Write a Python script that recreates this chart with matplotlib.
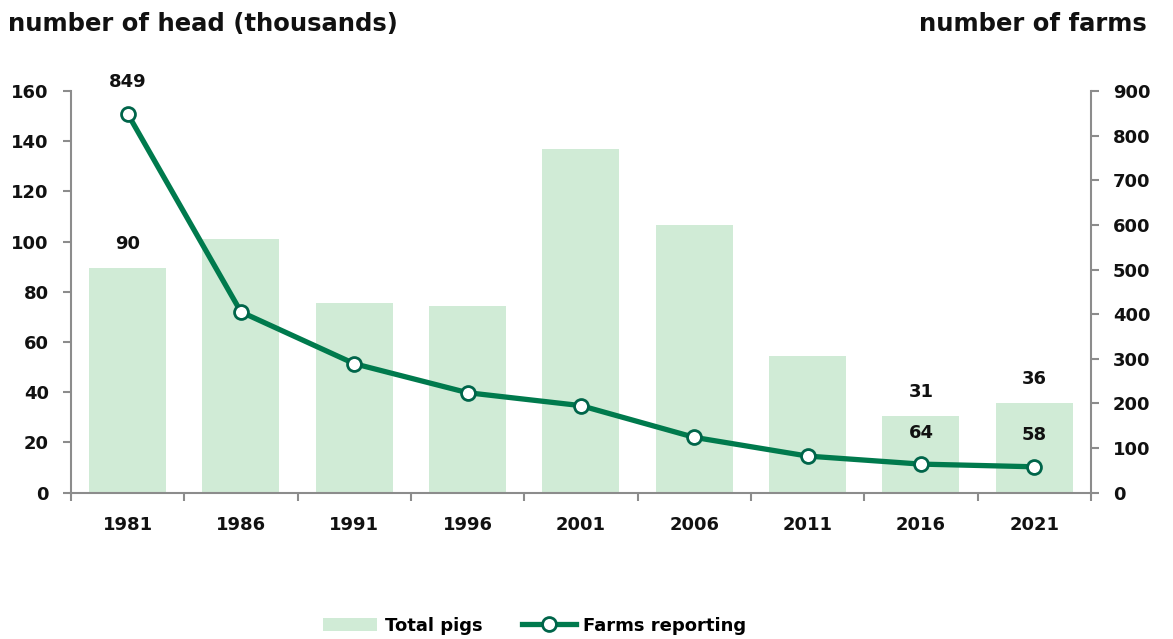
import matplotlib.pyplot as plt
from matplotlib.ticker import MultipleLocator, FixedLocator
import numpy as np

# data
years = ["1981", "1986", "1991", "1996", "2001", "2006", "2011", "2016", "2021"]
total_pigs = [89.5, 101, 75.5, 74.3, 136.7, 106.8, 54.3, 30.6, 35.8]   # thousands of head
farms = [849, 405, 289, 224, 195, 124, 82, 64, 58]

bar_color = "#d0ebd6"
line_color = "#007a4d"
edge_color = "#00654a"
spine_color = "#8c8c8c"
txt_color = "#111111"

plt.rcParams["font.family"] = ["DejaVu Sans"]

fig = plt.figure(figsize=(11.73, 6.39), dpi=100)
ax = fig.add_axes([0.0605, 0.229, 0.8695, 0.6286])
ax2 = ax.twinx()

x = np.arange(len(years))
ax.bar(x, total_pigs, width=0.68, color=bar_color, zorder=1, label="Total pigs")
ax2.plot(x, farms, color=line_color, lw=3.8, marker="o", ms=10,
         mfc="white", mec=edge_color, mew=2, zorder=3, label="Farms reporting")

ax.set_xlim(-0.5, len(years) - 0.5)
ax.set_ylim(0, 160)
ax2.set_ylim(0, 900)
ax.yaxis.set_major_locator(MultipleLocator(20))
ax2.yaxis.set_major_locator(MultipleLocator(100))

# x ticks on category boundaries, labels in the middle
ax.xaxis.set_major_locator(FixedLocator(np.arange(-0.5, len(years), 1)))
ax.set_xticklabels([])
ax.xaxis.set_minor_locator(FixedLocator(x))
ax.set_xticklabels(years, minor=True)
ax.tick_params(axis="x", which="minor", length=0, pad=17)
ax.tick_params(axis="x", which="major", length=6, width=1.5, color=spine_color, direction="out")

for a in (ax, ax2):
    for s in a.spines.values():
        s.set_color(spine_color)
        s.set_linewidth(1.5)
    a.spines["top"].set_visible(False)
ax.spines["right"].set_visible(False)
ax2.spines["left"].set_visible(False)
ax2.spines["bottom"].set_visible(False)

ax.tick_params(axis="y", length=6, width=1.5, color=spine_color, pad=10)
ax2.tick_params(axis="y", length=6, width=1.5, color=spine_color, pad=10)

for lab in ax.get_yticklabels() + ax2.get_yticklabels() + ax.get_xticklabels(minor=True):
    lab.set_fontsize(13)
    lab.set_fontweight("semibold")
    lab.set_color(txt_color)

# value labels
lab_kw = dict(ha="center", va="bottom", fontsize=13, fontweight="semibold", color=txt_color)
ax.text(x[0], total_pigs[0] + 5.8, f"{total_pigs[0]:.0f}", **lab_kw)
ax.text(x[7], total_pigs[7] + 6, f"{total_pigs[7]:.0f}", **lab_kw)
ax.text(x[8], total_pigs[8] + 6, f"{total_pigs[8]:.0f}", **lab_kw)
ax2.text(x[0], farms[0] + 50, f"{farms[0]}", **lab_kw)
ax2.text(x[7], farms[7] + 50, f"{farms[7]}", **lab_kw)
ax2.text(x[8], farms[8] + 50, f"{farms[8]}", **lab_kw)

# axis titles
fig.text(0.007, 0.963, "number of head (thousands)", ha="left", va="center",
         fontsize=17.5, fontweight="bold", color=txt_color)
fig.text(0.978, 0.963, "number of farms", ha="right", va="center",
         fontsize=17.5, fontweight="bold", color=txt_color)

h1, l1 = ax.get_legend_handles_labels()
h2, l2 = ax2.get_legend_handles_labels()
leg = fig.legend(h1 + h2, l1 + l2, loc="center", bbox_to_anchor=(0.456, 0.021), ncol=2,
                 frameon=False, handlelength=3.0, columnspacing=2.2, handletextpad=0.4,
                 prop={"size": 13, "weight": "semibold"})

fig.savefig("out.png", dpi=100)
